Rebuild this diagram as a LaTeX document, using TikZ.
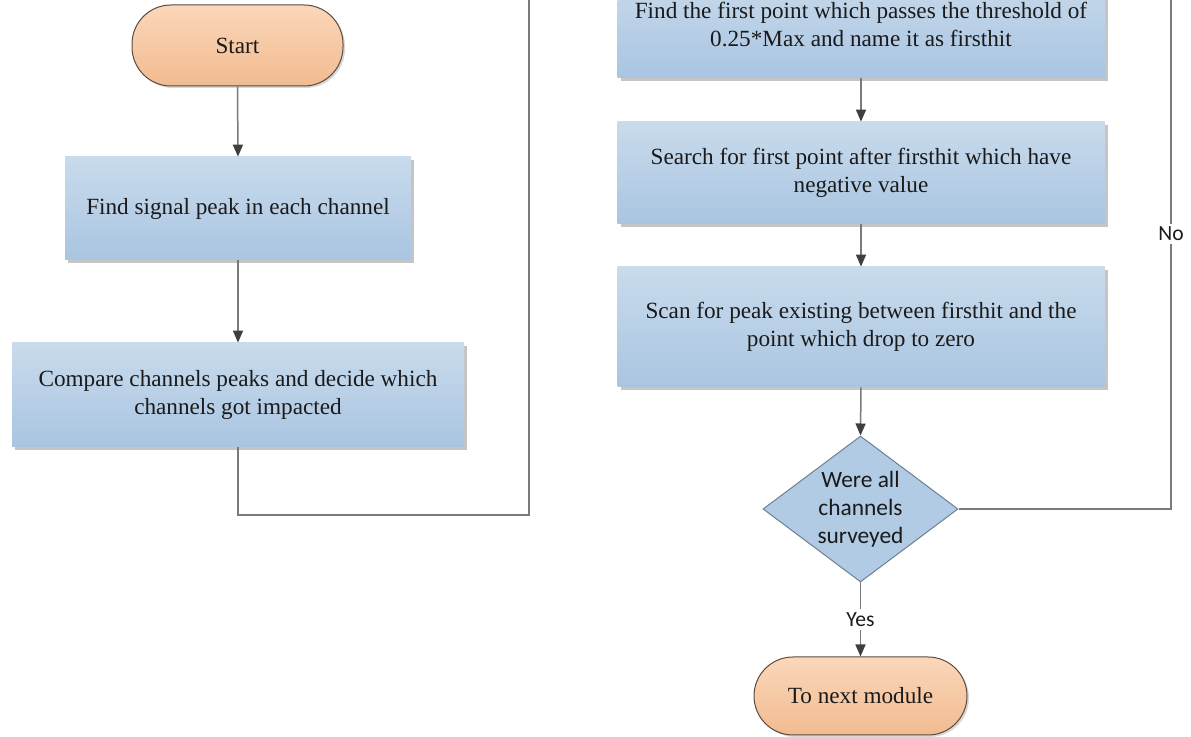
\documentclass[tikz,border=0pt]{standalone}
\usepackage{fontspec}
\setmainfont{Liberation Serif}
\newfontfamily\calib{Carlito}
\usetikzlibrary{shapes.geometric,shadows,arrows.meta}
\definecolor{linegray}{HTML}{7A7A7A}
\definecolor{tipgray}{HTML}{3F3F3F}
\definecolor{boxtop}{HTML}{C9DBEC}
\definecolor{boxbot}{HTML}{A9C5E1}
\definecolor{termtop}{HTML}{FBD7BA}
\definecolor{termbot}{HTML}{F2BB90}
\definecolor{termline}{HTML}{5B4A42}
\definecolor{diafill}{HTML}{B1CBE5}
\definecolor{dialine}{HTML}{6F8091}
\definecolor{txt}{HTML}{1A1A1A}
\begin{document}
\begin{tikzpicture}[x=0.5pt,y=-0.5pt,
  procbox/.style={rectangle, top color=boxtop, bottom color=boxbot, draw=none,
    align=center, text=txt, font=\fontsize{11.6}{14}\selectfont, inner sep=0pt,
    drop shadow={shadow xshift=1.5pt,shadow yshift=-1.5pt,opacity=0.45}},
  termbox/.style={rectangle, rounded corners=19.5pt, top color=termtop, bottom color=termbot,
    draw=termline, line width=0.5pt, align=center, text=txt,
    font=\fontsize{11.6}{14}\selectfont, inner sep=0pt,
    drop shadow={shadow xshift=1pt,shadow yshift=-1pt,opacity=0.3}},
  decbox/.style={diamond, fill=diafill, draw=dialine, line width=0.5pt, inner sep=0pt},
  dectext/.style={align=center, text=txt, font=\calib\fontsize{11.7}{13.9}\selectfont},
  lab/.style={fill=white, text=txt, font=\calib\fontsize{10.8}{12}\selectfont, inner sep=1.5pt},
  conn/.style={draw=linegray, line width=0.75pt},
  arr/.style={conn, -{Triangle[length=6pt,width=5pt,color=tipgray]}}
]
\clip (0,0) rectangle (1191,737);
\fill[white] (0,0) rectangle (1191,737);

% left column
\node[termbox, minimum width=105.5pt, minimum height=40.5pt] (start) at (237.5,45.5) {Start};
\node[procbox, minimum width=173pt, minimum height=51.5pt] (b1) at (238,208.5)
  {Find signal peak in each channel};
\node[procbox, minimum width=226pt, minimum height=52pt] (b2) at (238,395)
  {Compare channels peaks and decide which\\channels got impacted};

% right column
\node[procbox, minimum width=243.5pt, minimum height=53pt] (ba) at (861,25)
  {Find the first point which passes the threshold of\\0.25*Max and name it as firsthit};
\node[procbox, minimum width=243.5pt, minimum height=51pt] (bb) at (861,173)
  {Search for first point after firsthit which have\\negative value};
\node[procbox, minimum width=243.5pt, minimum height=60pt] (bc) at (861,327)
  {Scan for peak existing between firsthit and the\\point which drop to zero};
\node[decbox, minimum width=97.5pt, minimum height=73pt] (dia) at (860.5,509) {};
\node[dectext] (diat) at (860.5,509) {Were all\\channels\\surveyed};
\node[termbox, minimum width=106.5pt, minimum height=39pt] (endn) at (860.5,696) {To next module};

% connectors
\coordinate (lturn) at (529,515);
\coordinate (ltop) at (529,-10);
\coordinate (rturn) at (1171,509);
\coordinate (rtop) at (1171,-10);

\draw[arr] (start.south) -- (b1.north);
\draw[arr] (b1.south) -- (b2.north);
\draw[conn] (b2.south) |- (lturn) -- (ltop);

\draw[arr] (ba.south) -- (bb.north);
\draw[arr] (bb.south) -- (bc.north);
\draw[arr] (bc.south) -- (dia.north);
\draw[arr] (dia.south) -- node[lab] (yes) {Yes} (endn.north);
\draw[conn] (dia.east) -- (rturn) -- (rtop);
\node[lab] (no) at (1171,234) {No};
\end{tikzpicture}
\end{document}
